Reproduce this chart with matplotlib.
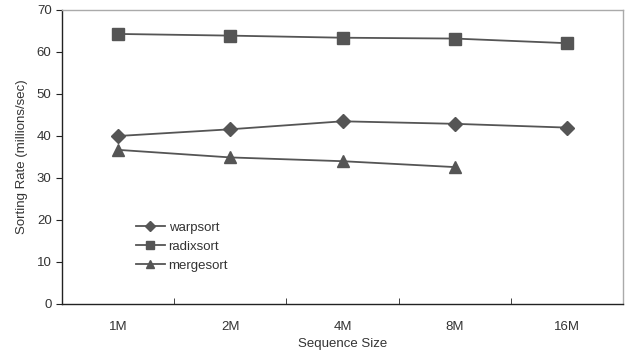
import matplotlib
matplotlib.use("Agg")
import matplotlib.pyplot as plt
import numpy as np

plt.rcParams['font.family'] = ['Liberation Sans', 'DejaVu Sans']

sizes = ["1M", "2M", "4M", "8M", "16M"]
warpsort = [40.0, 41.6, 43.5, 42.9, 42.0]
radixsort = [64.3, 63.9, 63.4, 63.2, 62.1]
mergesort = [36.7, 34.9, 34.0, 32.6]

GREY = "#555555"
TXT = "#333333"

fig = plt.figure(figsize=(6.34, 3.54), dpi=100)
ax = fig.add_axes([62 / 634, 50 / 354, 561 / 634, 294 / 354])

x = np.arange(len(sizes))
ax.plot(x, warpsort, '-D', color=GREY, lw=1.3, ms=7, label='warpsort')
ax.plot(x, radixsort, '-s', color=GREY, lw=1.3, ms=8.5, label='radixsort')
ax.plot(x[:len(mergesort)], mergesort, '-^', color=GREY, lw=1.3, ms=9, label='mergesort')

ax.set_xlim(-0.5, len(sizes) - 0.5)
ax.set_ylim(0, 70)
ax.set_yticks(range(0, 71, 10))
ax.set_xticks(x)
ax.set_xticklabels(sizes)
ax.set_xticks(np.arange(0.5, len(sizes) - 0.5, 1), minor=True)
ax.tick_params(axis='x', which='major', length=0, pad=12, labelsize=9.5, labelcolor=TXT)
ax.tick_params(axis='x', which='minor', direction='in', length=4, color='#222222')
ax.tick_params(axis='y', direction='out', length=4, labelsize=9.5, labelcolor=TXT, color='#222222')

for s in ['left', 'bottom']:
    ax.spines[s].set_color('#222222')
    ax.spines[s].set_linewidth(1.0)
for s in ['top', 'right']:
    ax.spines[s].set_color('#aaaaaa')
    ax.spines[s].set_linewidth(1.0)

ax.set_xlabel("Sequence Size", fontsize=9.5, color=TXT, labelpad=4)
ax.set_ylabel("Sorting Rate (millions/sec)", fontsize=9.5, color=TXT, labelpad=6)

leg = ax.legend(loc='lower left', bbox_to_anchor=(0.11, 0.07), frameon=False,
                fontsize=9.5, handlelength=2.2, handletextpad=0.3, labelspacing=0.5,
                markerscale=0.7)
for t in leg.get_texts():
    t.set_color(TXT)

fig.savefig("out.png", dpi=100)
